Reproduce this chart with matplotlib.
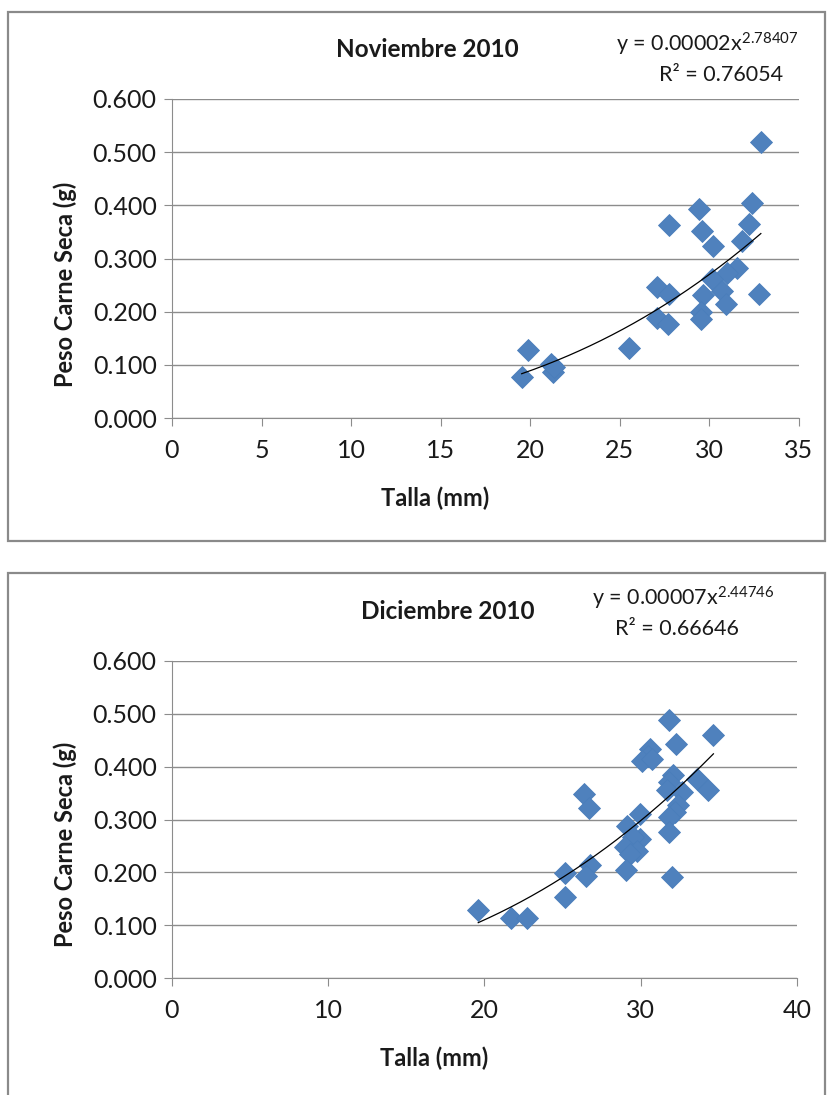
import numpy as np
import matplotlib
matplotlib.use('Agg')
import matplotlib.pyplot as plt
from matplotlib.patches import Rectangle

plt.rcParams['font.family'] = ['Lato', 'DejaVu Sans']
plt.rcParams['mathtext.fontset'] = 'custom'
plt.rcParams['mathtext.rm'] = 'Lato'
plt.rcParams['mathtext.it'] = 'Lato'

# Noviembre 2010
nov_talla = [32.87, 32.37, 32.22, 31.84, 31.56, 31.00, 32.79, 29.41, 29.58, 30.21,
             27.77, 30.13, 30.69, 30.93, 29.63, 29.52, 29.52, 27.06, 27.77, 27.06,
             27.71, 25.53, 19.89, 19.52, 21.14, 21.25, 21.30]
nov_peso = [0.520, 0.404, 0.365, 0.332, 0.282, 0.273, 0.233, 0.394, 0.352, 0.324,
            0.363, 0.262, 0.239, 0.214, 0.231, 0.200, 0.186, 0.246, 0.233, 0.188,
            0.177, 0.131, 0.127, 0.077, 0.102, 0.087, 0.095]

# Diciembre 2010
dic_talla = [31.83, 34.65, 32.24, 30.59, 30.48, 30.10, 30.70, 32.08, 33.58, 31.83,
             34.33, 31.66, 32.62, 26.37, 26.71, 32.40, 32.19, 29.95, 31.83, 29.14,
             31.83, 29.95, 29.52, 28.99, 29.74, 29.31, 29.06, 26.74, 26.52, 25.18,
             25.18, 32.03, 19.60, 21.70, 22.74]
dic_peso = [0.488, 0.459, 0.442, 0.434, 0.421, 0.410, 0.415, 0.385, 0.377, 0.371,
            0.356, 0.356, 0.352, 0.349, 0.322, 0.327, 0.314, 0.311, 0.305, 0.287,
            0.276, 0.264, 0.267, 0.248, 0.241, 0.235, 0.205, 0.213, 0.194, 0.198,
            0.154, 0.191, 0.128, 0.113, 0.113]

yticks = [0.0, 0.1, 0.2, 0.3, 0.4, 0.5, 0.6]

BLUE = '#4F81BD'
GRID = '#8c8c8c'
TXT = '#1a1a1a'


def power_fit(x, y):
    b, log_a = np.polyfit(np.log(x), np.log(y), 1)
    return np.exp(log_a), b


def panel(fig, rect, talla, peso, xmax, xstep, title, eq, r2, title_x, eq_pos, r2_pos):
    ax = fig.add_axes(rect)
    ax.plot(talla, peso, linestyle='none', marker='D', ms=11, color=BLUE,
            markeredgecolor='#4A7EBB', markeredgewidth=0.6, zorder=3)
    a, b = power_fit(np.array(talla), np.array(peso))
    xs = np.linspace(min(talla), max(talla), 200)
    ax.plot(xs, a * xs ** b, color='black', lw=0.9, zorder=4)

    ax.set_xlim(0, xmax)
    ax.set_ylim(0, 0.6)
    ax.set_xticks(np.arange(0, xmax + 1, xstep))
    ax.set_yticks(yticks)
    ax.set_yticklabels(['%.3f' % v for v in yticks])
    ax.grid(axis='y', color=GRID, lw=1)
    ax.set_axisbelow(True)
    for s in ['top', 'right']:
        ax.spines[s].set_visible(False)
    for s in ['left', 'bottom']:
        ax.spines[s].set_color(GRID)
    ax.tick_params(direction='out', length=6, color=GRID, labelsize=18,
                   labelcolor=TXT, pad=5)
    ax.tick_params(axis='x', pad=9)

    ax.set_xlabel('Talla (mm)', fontsize=17, fontweight='bold', color=TXT)
    ax.set_ylabel('Peso Carne Seca (g)', fontsize=17, fontweight='bold', color=TXT)
    ax.xaxis.set_label_coords(0.42, -0.215)
    ax.yaxis.set_label_coords(-0.152, 0.42)

    fig.text(title_x, rect[1] + rect[3] + 0.045, title, fontsize=17.5,
             fontweight='bold', ha='center', va='center', color=TXT)
    fig.text(eq_pos[0], eq_pos[1], eq, fontsize=15.5, ha='center', va='center', color=TXT)
    fig.text(r2_pos[0], r2_pos[1], r2, fontsize=15.5, ha='center', va='center', color=TXT)
    return ax


W, H = 829, 1095
fig = plt.figure(figsize=(W / 100, H / 100), dpi=100)

# chart borders
fig.patches.append(Rectangle((8 / W, 1 - 541 / H), 0.995 - 8 / W, (541 - 12) / H,
                             transform=fig.transFigure, fill=False,
                             edgecolor='#8a8a8a', lw=1.6))
fig.patches.append(Rectangle((8 / W, -0.01), 0.995 - 8 / W, 0.01 + (1095 - 573) / H,
                             transform=fig.transFigure, fill=False,
                             edgecolor='#8a8a8a', lw=1.6))

panel(fig, [172 / W, 1 - 418 / H, 627 / W, 319 / H], nov_talla, nov_peso, 35, 5,
      'Noviembre 2010', r'y = 0.00002x$^{2.78407}$', 'R² = 0.76054',
      427 / W, (707 / W, 1 - 44 / H), (721 / W, 1 - 75 / H))
panel(fig, [172 / W, 1 - 978 / H, 625 / W, 317 / H], dic_talla, dic_peso, 40, 10,
      'Diciembre 2010', r'y = 0.00007x$^{2.44746}$', 'R² = 0.66646',
      448 / W, (683 / W, 1 - 598 / H), (677 / W, 1 - 629 / H))

fig.savefig('out.png', dpi=100)
